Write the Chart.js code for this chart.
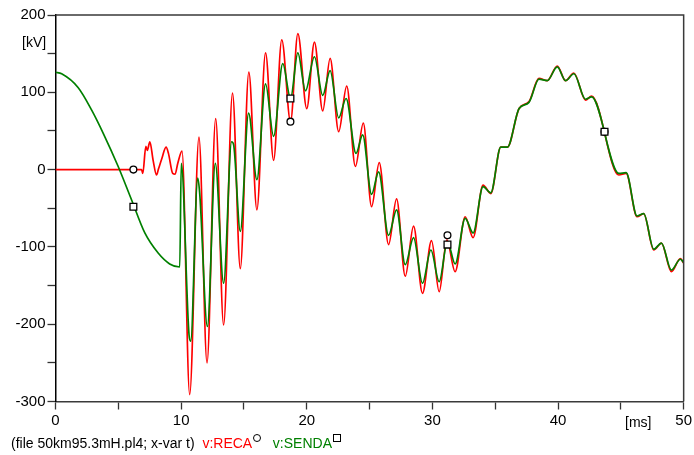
<!DOCTYPE html>
<html>
<head>
<meta charset="utf-8">
<script src="https://cdn.jsdelivr.net/npm/chart.js@4.4.1/dist/chart.umd.min.js"></script>
<style>
    body { margin: 0; background: #fff; }
    #wrap { position: relative; width: 694px; height: 455px; font-family: "Liberation Sans", Arial, sans-serif; }
    #plot { position: absolute; left: 0; top: 0; }
    .lbl { position: absolute; font-size: 14px; color: #000; white-space: nowrap; line-height: 1; }
    .mk { display: inline-block; width: 6px; height: 6px; border: 1.3px solid #000; background: #fff; vertical-align: 6px; margin-left: 1px; }
</style>
</head>
<body>
<div id="wrap">
    <canvas id="plot" width="694" height="455"></canvas>
    <div class="lbl" style="left:22px; top:35px;">[kV]</div>
    <div class="lbl" style="left:625px; top:415px;">[ms]</div>
    <div class="lbl" style="left:11px; top:434px;">(file 50km95.3mH.pl4; x-var t)&nbsp;&nbsp;<span style="color:#ff0000">v:RECA</span><span class="mk" style="border-radius:50%"></span>&nbsp;&nbsp;&nbsp;<span style="color:#008000">v:SENDA</span><span class="mk"></span></div>
</div>
<script>
// v:RECA (red) - time in ms, voltage in kV
const recaT = [0, 6.85, 6.95, 7.19, 7.31, 7.51, 7.77, 8.04, 8.20, 8.46, 8.80, 8.99, 9.33, 9.52, 9.73, 10.07,
    10.68, 11.42, 12.06, 12.75, 13.38, 14.09, 14.71, 15.39, 16.03, 16.72, 17.36, 18.01, 18.71, 19.29,
    20.00, 20.61, 21.27, 21.86, 22.54, 23.18, 23.87, 24.50, 25.16, 25.77, 26.51, 27.15, 27.84, 28.50,
    29.21, 29.93, 30.54, 31.15, 31.81, 32.61, 33.24, 34.03, 34.65, 35.44, 35.97, 36.90, 37.69, 38.48,
    39.14, 39.94, 40.60, 41.26, 42.19, 42.67, 44.84, 45.42, 46.29, 46.82, 47.62, 48.23, 49.02, 49.74, 50];
const recaV = [0, 0, -5, 30, 25, 36, 12, -7, 1, 14, 29, 21, -5, -6, 8, 24,
    -291, 42, -250, 66, -201, 99, -128, 126, -52, 151, 12, 168, 62, 176,
    79, 165, 76, 144, 49, 108, 4, 60, -48, 9, -97, -38, -138, -73,
    -160, -92, -158, -91, -132, -61, -88, -20, -31, 29, 29, 79, 88, 118,
    115, 134, 115, 125, 90, 95, -7, -5, -61, -57, -104, -95, -132, -115, -121];

// v:SENDA (green)
const sendaT = [0, 0.49, 1.81, 2.88, 3.80, 4.99, 6.05, 7.11, 8.17, 9.09, 9.89, 10.01,
    10.63, 10.76, 11.32, 11.48, 12.09, 12.72, 13.38, 14.02, 14.18, 14.71, 15.37, 16.03, 16.72, 17.36,
    18.09, 18.71, 19.29, 19.90, 20.61, 21.27, 21.86, 22.54, 23.13, 23.92, 24.45, 25.16, 25.72, 26.51,
    27.15, 27.84, 28.50, 29.21, 29.88, 30.54, 31.20, 31.81, 32.61, 33.24, 34.03, 34.65, 35.44, 35.97,
    36.90, 37.69, 38.48, 39.14, 39.94, 40.60, 41.26, 42.19, 42.67, 44.84, 45.42, 46.29, 46.82, 47.62,
    48.23, 49.02, 49.74, 50];
const sendaV = [126, 124, 106, 77, 47, 4, -39, -82, -108, -122, -126, 8,
    -214, -222, -11, -31, -203, 8, -147, 36, 32, -80, 73, -13, 111, 43,
    137, 92, 151, 102, 146, 96, 128, 67, 92, 21, 45, -32, -3, -85,
    -52, -123, -88, -147, -104, -145, -93, -122, -63, -82, -22, -30, 29, 29,
    79, 87, 117, 115, 133, 115, 124, 91, 94, -5, -4, -60, -57, -103,
    -95, -130, -116, -120];

// marker symbols every 12.5 ms
const markT = [6.2, 18.7, 31.2, 43.7];
const recaMarkV = [0, 62, -85, 49];
const sendaMarkV = [-48, 92, -97, 49];

function toPoints(xs, ys) {
    return xs.map((x, i) => ({ x: x, y: ys[i] }));
}

// top and right frame lines
const frame = {
    id: 'frame',
    afterDraw(chart) {
        const a = chart.chartArea;
        const ctx = chart.ctx;
        ctx.save();
        ctx.strokeStyle = '#3a3a3a';
        ctx.lineWidth = 1.5;
        ctx.beginPath();
        ctx.moveTo(a.left, a.top);
        ctx.lineTo(a.right, a.top);
        ctx.lineTo(a.right, a.bottom);
        ctx.stroke();
        ctx.restore();
    }
};

const tickFont = { family: '"Liberation Sans", Arial, sans-serif', size: 15 };

new Chart(document.getElementById('plot'), {
    type: 'scatter',
    data: {
        datasets: [
            {
                label: 'SENDA marks', data: toPoints(markT, sendaMarkV), order: 0,
                pointStyle: 'rect', pointRadius: 4.8, borderColor: '#000', backgroundColor: '#fff', borderWidth: 1.3
            },
            {
                label: 'RECA marks', data: toPoints(markT, recaMarkV), order: 0,
                pointStyle: 'circle', pointRadius: 3.4, borderColor: '#000', backgroundColor: '#fff', borderWidth: 1.3
            },
            {
                label: 'v:SENDA', data: toPoints(sendaT, sendaV), order: 1, showLine: true,
                borderColor: '#008000', borderWidth: 1.7, pointRadius: 0, cubicInterpolationMode: 'monotone'
            },
            {
                label: 'v:RECA', data: toPoints(recaT, recaV), order: 2, showLine: true,
                borderColor: '#ff0000', borderWidth: 1.7, pointRadius: 0, cubicInterpolationMode: 'monotone'
            }
        ]
    },
    options: {
        responsive: false,
        animation: false,
        devicePixelRatio: 1,
        layout: { padding: { top: 15, right: 9, left: 0, bottom: 0 } },
        plugins: { legend: { display: false }, tooltip: { enabled: false } },
        scales: {
            x: {
                type: 'linear', min: 0, max: 50,
                afterFit: function(scale) { scale.height = 53.5; },
                ticks: {
                    stepSize: 5, padding: 2, color: '#000', font: tickFont, maxRotation: 0,
                    callback: function(v) { return v % 10 === 0 ? String(v) : ''; }
                },
                grid: { drawOnChartArea: false, tickLength: 8, color: '#333', tickWidth: 1.3 },
                border: { color: '#3a3a3a', width: 1.5 }
            },
            y: {
                type: 'linear', min: -300, max: 200,
                afterFit: function(scale) { scale.width = 55.5; },
                ticks: {
                    stepSize: 50, padding: 2, color: '#000', font: tickFont,
                    callback: function(v) { return v % 100 === 0 ? String(v) : ''; }
                },
                grid: { drawOnChartArea: false, tickLength: 8, color: '#333', tickWidth: 1.3 },
                border: { color: '#000', width: 1.5 }
            }
        }
    },
    plugins: [frame]
});
</script>
</body>
</html>
